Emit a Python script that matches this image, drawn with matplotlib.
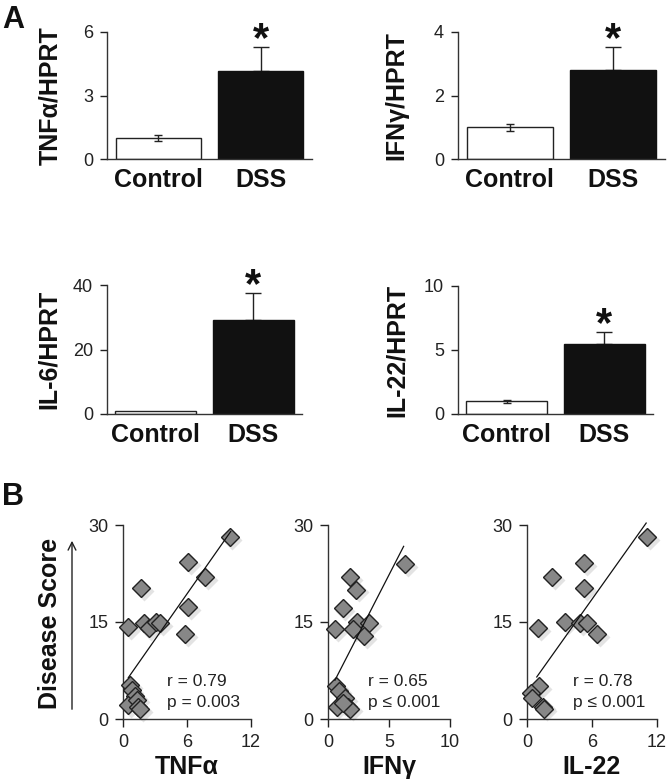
import matplotlib
matplotlib.use("Agg")
import matplotlib.pyplot as plt
from matplotlib.transforms import offset_copy
import numpy as np

plt.rcParams['font.family'] = ['Liberation Sans', 'DejaVu Sans']

# ---------------- data ----------------
genes = ['TNFα', 'IFNγ', 'IL-6', 'IL-22']
categories = ['Control', 'DSS']
control_mean = [1.0, 1.0, 0.8, 1.0]
control_err = [0.14, 0.11, 0.0, 0.12]
dss_mean = [4.15, 2.8, 29.3, 5.45]
dss_err = [1.15, 0.73, 8.3, 0.95]
bar_ymax = [6, 4, 40, 10]
bar_yticks = [[0, 3, 6], [0, 2, 4], [0, 20, 40], [0, 5, 10]]

tnf_x = [10.0, 6.1, 7.7, 1.7, 6.1, 0.45, 2.0, 2.4, 3.1, 3.5, 5.8, 0.65, 0.8, 1.1, 0.5, 1.3, 1.4, 1.6]
tnf_y = [28.1, 24.3, 22.0, 20.2, 17.3, 14.2, 14.8, 14.0, 15.0, 14.8, 13.1, 5.3, 4.5, 3.5, 2.2, 3.0, 1.8, 1.5]
ifn_x = [6.3, 1.8, 2.3, 1.2, 0.6, 2.4, 2.05, 3.4, 2.95, 0.65, 0.9, 1.4, 0.7, 1.6, 1.8, 1.2]
ifn_y = [24.0, 22.0, 20.0, 17.2, 13.9, 15.0, 13.9, 14.8, 12.8, 5.1, 4.4, 3.2, 1.9, 1.8, 1.6, 2.5]
il22_x = [11.1, 5.3, 2.3, 5.3, 3.5, 4.9, 5.55, 6.5, 1.0, 1.1, 0.4, 0.5, 1.5, 1.6]
il22_y = [28.1, 24.1, 22.0, 20.2, 15.0, 14.8, 14.8, 13.1, 14.0, 5.1, 4.0, 3.3, 1.9, 1.6]

fit_tnf_x = [0.5, 10.1]
fit_tnf_y = [6.4, 29.0]
fit_ifn_x = [0.57, 6.2]
fit_ifn_y = [6.0, 26.7]
fit_il22_x = [0.9, 11.0]
fit_il22_y = [6.5, 30.3]

scatter_names = ['TNFα', 'IFNγ', 'IL-22']
scatter_xmax = [12, 10, 12]
scatter_xticks = [[0, 6, 12], [0, 5, 10], [0, 6, 12]]
stats_r = ['r = 0.79', 'r = 0.65', 'r = 0.78']
stats_p = ['p = 0.003', 'p ≤ 0.001', 'p ≤ 0.001']

# ---------------- figure ----------------
W, H = 667, 782
fig = plt.figure(figsize=(W / 100, H / 100), dpi=100)


def px_axes(l, r, t, b):
    return fig.add_axes([l / W, 1 - b / H, (r - l) / W, (b - t) / H])


spine_col = '#333333'
bar_boxes = [(107, 312, 32, 159), (458, 665, 32, 159),
             (107, 302, 285, 414), (458, 653, 286, 414)]
label_x_px = [50, 396, 49, 397]
star_fs = 30

for i, g in enumerate(genes):
    l, r, t, b = bar_boxes[i]
    ax = px_axes(l, r, t, b)
    ax.bar([0], [control_mean[i]], width=0.83, color='white', edgecolor='#222222', linewidth=1.0, zorder=2)
    ax.bar([1], [dss_mean[i]], width=0.83, color='#111111', edgecolor='#111111', linewidth=1.0, zorder=2)
    if control_err[i] > 0:
        ax.errorbar([0], [control_mean[i]], yerr=[control_err[i]], fmt='none', ecolor='#222222',
                    elinewidth=1.0, capsize=3, capthick=1.0, zorder=3)
    ax.errorbar([1], [dss_mean[i]], yerr=[[0], [dss_err[i]]], fmt='none', ecolor='#222222',
                elinewidth=1.0, capsize=6, capthick=1.0, zorder=1)
    ax.annotate('*', xy=(1, dss_mean[i] + dss_err[i]), xytext=(0, -3), textcoords='offset points',
                ha='center', va='baseline', fontsize=star_fs, fontweight='bold', color='#111111',
                annotation_clip=False)
    ax.set_xlim(-0.5, 1.5)
    ax.set_ylim(0, bar_ymax[i])
    ax.set_yticks(bar_yticks[i])
    ax.set_xticks([0, 1])
    ax.set_xticklabels(categories, fontsize=18, fontweight='bold', color='#111111')
    ax.tick_params(axis='x', length=0, pad=6.5)
    ax.tick_params(axis='y', direction='out', length=5, width=1, labelsize=13, colors='#222222', pad=5)
    for s in ['top', 'right']:
        ax.spines[s].set_visible(False)
    for s in ['left', 'bottom']:
        ax.spines[s].set_color(spine_col)
        ax.spines[s].set_linewidth(1.0)
    ax.text((label_x_px[i] - l) / (r - l), 0.5, f'{g}/HPRT', transform=ax.transAxes, rotation=90,
            ha='center', va='center', fontsize=18, fontweight='bold', color='#111111')

# ---------------- scatter panels ----------------
sc_boxes = [(123, 251, 525, 719), (328, 450, 525, 719), (527, 657, 525, 719)]
xs = [tnf_x, ifn_x, il22_x]
ys = [tnf_y, ifn_y, il22_y]
fxs = [fit_tnf_x, fit_ifn_x, fit_il22_x]
fys = [fit_tnf_y, fit_ifn_y, fit_il22_y]
txt_x_px = [167, 368, 573]

for i in range(3):
    l, r, t, b = sc_boxes[i]
    ax = px_axes(l, r, t, b)
    tr = offset_copy(ax.transData, fig=fig, x=2.0, y=-2.0, units='points')
    ax.plot(xs[i], ys[i], 'D', ms=10.5, color='#d8d8d8', mec='none', transform=tr, zorder=1,
            alpha=0.7, clip_on=False)
    ax.plot(xs[i], ys[i], 'D', ms=9.5, mfc='#878787', mec='#222222', mew=1.0, zorder=3, clip_on=False)
    ax.plot(fxs[i], fys[i], '-', color='#111111', lw=0.9, zorder=4, clip_on=False)
    ax.set_xlim(0, scatter_xmax[i])
    ax.set_ylim(0, 30)
    ax.set_xticks(scatter_xticks[i])
    ax.set_yticks([0, 15, 30])
    ax.tick_params(direction='out', length=5.5, width=1, labelsize=13, colors='#222222', pad=5)
    for s in ['top', 'right']:
        ax.spines[s].set_visible(False)
    for s in ['left', 'bottom']:
        ax.spines[s].set_color(spine_col)
        ax.spines[s].set_linewidth(1.0)
    fx = (txt_x_px[i] - l) / (r - l)
    ax.text(fx, (b - 682) / (b - t), stats_r[i], transform=ax.transAxes, ha='left', va='center',
            fontsize=12.5, color='#222222')
    ax.text(fx, (b - 702) / (b - t), stats_p[i], transform=ax.transAxes, ha='left', va='center',
            fontsize=12.5, color='#222222')
    ax.text(0.5, -(767 - b) / (b - t), scatter_names[i], transform=ax.transAxes, ha='center',
            va='center', fontsize=18, fontweight='bold', color='#111111')

fig.text(50 / W, 1 - 623 / H, 'Disease Score', rotation=90, ha='center', va='center',
         fontsize=18, fontweight='bold', color='#111111')
fig.add_artist(matplotlib.patches.FancyArrowPatch((72 / W, 1 - 712 / H), (72 / W, 1 - 538 / H),
                                                  transform=fig.transFigure, arrowstyle='->',
                                                  mutation_scale=14, lw=1.0, color='#222222'))

fig.text(2 / W, 1 - 28 / H, 'A', fontsize=22, fontweight='bold', ha='left', va='baseline', color='#111111')
fig.text(2 / W, 1 - 505 / H, 'B', fontsize=22, fontweight='bold', ha='left', va='baseline', color='#111111')

fig.savefig('out.png', dpi=100)
